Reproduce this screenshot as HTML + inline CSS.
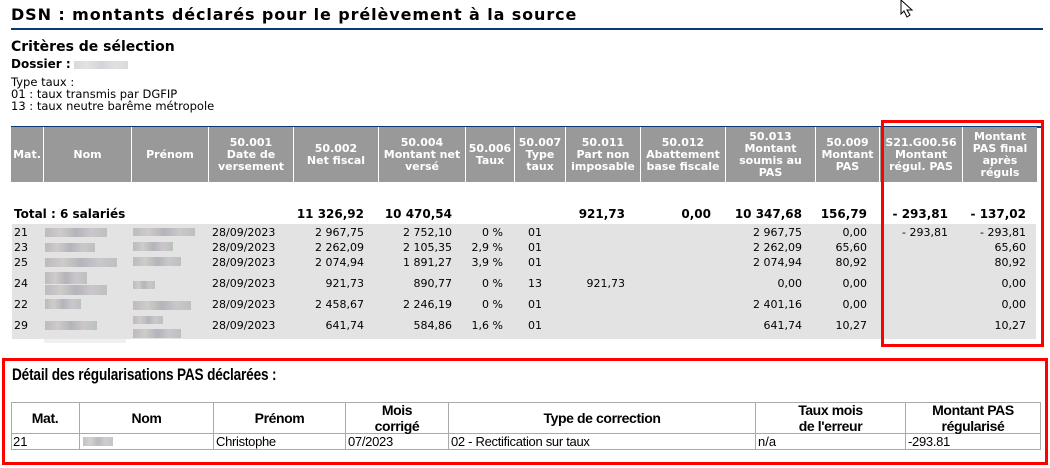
<!DOCTYPE html>
<html><head><meta charset="utf-8"><style>
*{margin:0;padding:0;box-sizing:border-box}
body{width:1050px;height:468px;background:#fff;position:relative;overflow:hidden;font-family:"DejaVu Sans","Liberation Sans",sans-serif;color:#000}
.a{position:absolute;white-space:nowrap}
.t{font-size:11px;line-height:13px}
.r{text-align:right}
.hd{position:absolute;top:127px;height:55px;background:#999;color:#fff;font-weight:bold;font-size:11px;line-height:12px;display:flex;align-items:center;justify-content:center;text-align:center;border-right:1px solid #fff}
.b{font-weight:bold;font-size:12px}
.blur{position:absolute;background:linear-gradient(90deg,#b5b0b5,#c9c6c2,#a9a8b0,#c4bfc6,#b3b8b3);opacity:.8}
.n{font-family:"Liberation Sans Narrow","Liberation Sans",sans-serif}
.sq{display:inline-block;transform:scaleX(.8);transform-origin:left center}
.bt{position:absolute;border-right:1px solid #aaa;border-bottom:1px solid #aaa;font-size:13px;color:#000}
.bh{font-weight:bold;font-size:14px;letter-spacing:-.4px;display:flex;align-items:center;justify-content:center;line-height:16px;text-align:center;height:32px;top:402px}
</style></head><body>
<div class="a" style="left:11px;top:4px;font-size:16px;font-weight:bold;letter-spacing:.9px;line-height:22px">DSN : montants déclarés pour le prélèvement à la source</div>
<svg class="a" style="left:898px;top:0" width="22" height="20"><path d="M3 0 L3 14 L6 11 L9 17 L12 15 L9 10 L14 10 Z" fill="#fff" stroke="#000" stroke-width="1"/></svg>
<div class="a" style="left:11px;top:28px;width:1032px;height:2px;background:#0b3a75"></div>
<div class="a" style="left:11px;top:39px;font-size:14px;font-weight:bold">Critères de sélection</div>
<div class="a" style="left:11px;top:57px;font-size:12px;font-weight:bold">Dossier :</div>
<div class="blur" style="left:74px;top:61px;width:54px;height:8px;opacity:.5"></div>
<div class="a t" style="left:11px;top:76px;line-height:12px;font-size:11.5px">Type taux :<br>01 : taux transmis par DGFIP<br>13 : taux neutre barême métropole</div>
<div class="a" style="left:11px;top:126px;width:1030px;height:2px;background:#0b3a75"></div>

<div class="hd" style="left:11px;width:33px">Mat.</div>
<div class="hd" style="left:44px;width:88px">Nom</div>
<div class="hd" style="left:132px;width:77px">Prénom</div>
<div class="hd" style="left:209px;width:85px">50.001<br>Date de<br>versement</div>
<div class="hd" style="left:294px;width:85px">50.002<br>Net fiscal</div>
<div class="hd" style="left:379px;width:87px">50.004<br>Montant net<br>versé</div>
<div class="hd" style="left:466px;width:49px">50.006<br>Taux</div>
<div class="hd" style="left:515px;width:51px">50.007<br>Type<br>taux</div>
<div class="hd" style="left:566px;width:75px">50.011<br>Part non<br>imposable</div>
<div class="hd" style="left:641px;width:85px">50.012<br>Abattement<br>base fiscale</div>
<div class="hd" style="left:726px;width:90px">50.013<br>Montant<br>soumis au<br>PAS</div>
<div class="hd" style="left:816px;width:64px">50.009<br>Montant<br>PAS</div>
<div class="hd" style="left:880px;width:83px">S21.G00.56<br>Montant<br>régul. PAS</div>
<div class="hd" style="left:963px;width:74px;border-right:none">Montant<br>PAS final<br>après<br>réguls</div>

<div class="a b" style="left:14px;top:207px">Total : 6 salariés</div>
<div class="a b r" style="right:686px;top:207px">11 326,92</div>
<div class="a b r" style="right:598px;top:207px">10 470,54</div>
<div class="a b r" style="right:425px;top:207px">921,73</div>
<div class="a b r" style="right:339px;top:207px">0,00</div>
<div class="a b r" style="right:248px;top:207px">10 347,68</div>
<div class="a b r" style="right:183px;top:207px">156,79</div>
<div class="a b r" style="right:102px;top:207px">- 293,81</div>
<div class="a b r" style="right:24px;top:207px">- 137,02</div>

<div class="a" style="left:12px;top:224px;width:1024px;height:115px;background:#e3e3e3"></div>
<div class="a" style="left:44px;top:339px;width:82px;height:4px;background:#f0f0f0"></div>

<div class="a t" style="left:14px;top:226px">21</div><div class="blur" style="left:45px;top:228px;width:62px;height:9px"></div><div class="blur" style="left:133px;top:228px;width:62px;height:8px"></div>
<div class="a t" style="left:212px;top:226px">28/09/2023</div><div class="a t r" style="right:686px;top:226px">2 967,75</div><div class="a t r" style="right:598px;top:226px">2 752,10</div><div class="a t r" style="right:547px;top:226px">0 %</div><div class="a t" style="left:528px;top:226px">01</div><div class="a t r" style="right:248px;top:226px">2 967,75</div><div class="a t r" style="right:183px;top:226px">0,00</div><div class="a t r" style="right:102px;top:226px">- 293,81</div><div class="a t r" style="right:24px;top:226px">- 293,81</div>

<div class="a t" style="left:14px;top:241px">23</div><div class="blur" style="left:45px;top:243px;width:50px;height:9px"></div><div class="blur" style="left:133px;top:242px;width:40px;height:9px"></div>
<div class="a t" style="left:212px;top:241px">28/09/2023</div><div class="a t r" style="right:686px;top:241px">2 262,09</div><div class="a t r" style="right:598px;top:241px">2 105,35</div><div class="a t r" style="right:547px;top:241px">2,9 %</div><div class="a t" style="left:528px;top:241px">01</div><div class="a t r" style="right:248px;top:241px">2 262,09</div><div class="a t r" style="right:183px;top:241px">65,60</div><div class="a t r" style="right:24px;top:241px">65,60</div>

<div class="a t" style="left:14px;top:256px">25</div><div class="blur" style="left:45px;top:258px;width:72px;height:9px"></div><div class="blur" style="left:133px;top:257px;width:48px;height:9px"></div>
<div class="a t" style="left:212px;top:256px">28/09/2023</div><div class="a t r" style="right:686px;top:256px">2 074,94</div><div class="a t r" style="right:598px;top:256px">1 891,27</div><div class="a t r" style="right:547px;top:256px">3,9 %</div><div class="a t" style="left:528px;top:256px">01</div><div class="a t r" style="right:248px;top:256px">2 074,94</div><div class="a t r" style="right:183px;top:256px">80,92</div><div class="a t r" style="right:24px;top:256px">80,92</div>

<div class="a t" style="left:14px;top:277px">24</div><div class="blur" style="left:45px;top:272px;width:42px;height:12px"></div><div class="blur" style="left:45px;top:285px;width:62px;height:10px"></div><div class="blur" style="left:133px;top:281px;width:22px;height:8px"></div>
<div class="a t" style="left:212px;top:277px">28/09/2023</div><div class="a t r" style="right:686px;top:277px">921,73</div><div class="a t r" style="right:598px;top:277px">890,77</div><div class="a t r" style="right:547px;top:277px">0 %</div><div class="a t" style="left:528px;top:277px">13</div><div class="a t r" style="right:425px;top:277px">921,73</div><div class="a t r" style="right:248px;top:277px">0,00</div><div class="a t r" style="right:183px;top:277px">0,00</div><div class="a t r" style="right:24px;top:277px">0,00</div>

<div class="a t" style="left:14px;top:298px">22</div><div class="blur" style="left:45px;top:299px;width:36px;height:10px"></div><div class="blur" style="left:133px;top:301px;width:58px;height:9px"></div>
<div class="a t" style="left:212px;top:298px">28/09/2023</div><div class="a t r" style="right:686px;top:298px">2 458,67</div><div class="a t r" style="right:598px;top:298px">2 246,19</div><div class="a t r" style="right:547px;top:298px">0 %</div><div class="a t" style="left:528px;top:298px">01</div><div class="a t r" style="right:248px;top:298px">2 401,16</div><div class="a t r" style="right:183px;top:298px">0,00</div><div class="a t r" style="right:24px;top:298px">0,00</div>

<div class="a t" style="left:14px;top:319px">29</div><div class="blur" style="left:45px;top:321px;width:52px;height:9px"></div><div class="blur" style="left:133px;top:316px;width:30px;height:8px"></div><div class="blur" style="left:133px;top:329px;width:48px;height:9px"></div>
<div class="a t" style="left:212px;top:319px">28/09/2023</div><div class="a t r" style="right:686px;top:319px">641,74</div><div class="a t r" style="right:598px;top:319px">584,86</div><div class="a t r" style="right:547px;top:319px">1,6 %</div><div class="a t" style="left:528px;top:319px">01</div><div class="a t r" style="right:248px;top:319px">641,74</div><div class="a t r" style="right:183px;top:319px">10,27</div><div class="a t r" style="right:24px;top:319px">10,27</div>

<div class="a" style="left:881px;top:120px;width:163px;height:227px;border:3px solid #f00"></div>

<div class="a" style="left:2px;top:358px;width:1046px;height:107px;border:3px solid #f00"></div>
<div class="a n" style="left:12px;top:365px;font-size:17px;font-weight:bold;letter-spacing:-.2px"><span class="sq">Détail des régularisations PAS déclarées :</span></div>
<div class="a" style="left:11px;top:402px;width:1030px;height:48px;border-top:1px solid #aaa;border-left:1px solid #aaa"></div>
<div class="bt n bh" style="left:11px;width:69px">Mat.</div>
<div class="bt n bh" style="left:80px;width:134px">Nom</div>
<div class="bt n bh" style="left:214px;width:132px">Prénom</div>
<div class="bt n bh" style="left:346px;width:103px">Mois<br>corrigé</div>
<div class="bt n bh" style="left:449px;width:307px">Type de correction</div>
<div class="bt n bh" style="left:756px;width:150px">Taux mois<br>de l'erreur</div>
<div class="bt n bh" style="left:906px;width:135px">Montant PAS<br>régularisé</div>
<div class="bt n" style="left:11px;top:434px;width:69px;height:16px;font-size:13px;line-height:15px;padding-left:2px">21</div>
<div class="bt n" style="left:80px;top:434px;width:134px;height:16px"><div class="blur" style="left:3px;top:3px;width:30px;height:9px"></div></div>
<div class="bt n" style="left:214px;top:434px;width:132px;height:16px;font-size:13px;line-height:15px;padding-left:2px;letter-spacing:-.3px">Christophe</div>
<div class="bt n" style="left:346px;top:434px;width:103px;height:16px;font-size:13px;line-height:15px;padding-left:2px;letter-spacing:-.3px">07/2023</div>
<div class="bt n" style="left:449px;top:434px;width:307px;height:16px;font-size:13px;line-height:15px;padding-left:2px;letter-spacing:-.3px">02 - Rectification sur taux</div>
<div class="bt n" style="left:756px;top:434px;width:150px;height:16px;font-size:13px;line-height:15px;padding-left:2px">n/a</div>
<div class="bt n" style="left:906px;top:434px;width:135px;height:16px;font-size:13px;line-height:15px;padding-left:2px;letter-spacing:-.3px">-293.81</div>
</body></html>
